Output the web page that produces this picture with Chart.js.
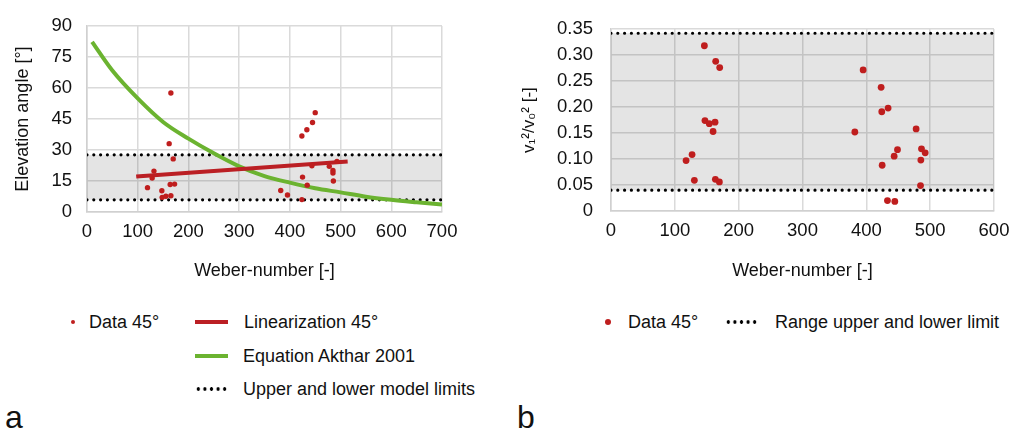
<!DOCTYPE html>
<html>
<head>
<meta charset="utf-8">
<script src="https://cdn.jsdelivr.net/npm/chart.js@4/dist/chart.umd.min.js"></script>
<style>
  body { margin: 0; background: #fff; font-family: "Liberation Sans", Arial, sans-serif; color: #111; }
  #page { position: relative; width: 1027px; height: 433px; overflow: hidden; }
  canvas { position: absolute; top: 0; }
  .lg { position: absolute; font-size: 18px; line-height: 22px; white-space: nowrap; }
  .dot { position: absolute; border-radius: 50%; background: #bf1e1e; }
  .bar { position: absolute; height: 4px; }
  .dots { position: absolute; height: 4px;
          background: radial-gradient(circle, #000 1.5px, transparent 2px) repeat-x;
          background-size: 6.6px 4px; }
  .tag { position: absolute; font-size: 32px; line-height: 36px; }
</style>
</head>
<body>
<div id="page">
  <canvas id="chartA" width="470" height="290" style="left:0"></canvas>
  <canvas id="chartB" width="517" height="290" style="left:510px"></canvas>

  <!-- legend a -->
  <div class="dot" style="left:71px;top:320px;width:4px;height:4px"></div>
  <div class="lg" style="left:89px;top:311px">Data 45°</div>
  <div class="bar" style="left:195px;top:320px;width:33px;background:#bb1f24"></div>
  <div class="lg" style="left:244px;top:311px">Linearization 45°</div>
  <div class="bar" style="left:195px;top:354px;width:33px;background:#6bb330"></div>
  <div class="lg" style="left:243px;top:345px">Equation Akthar 2001</div>
  <div class="dots" style="left:195px;top:387px;width:33px"></div>
  <div class="lg" style="left:243px;top:378px">Upper and lower model limits</div>
  <div class="tag" style="left:5px;top:399px">a</div>

  <!-- legend b -->
  <div class="dot" style="left:605px;top:319px;width:6px;height:6px"></div>
  <div class="lg" style="left:628px;top:311px">Data 45°</div>
  <div class="dots" style="left:725px;top:320px;width:33px"></div>
  <div class="lg" style="left:775px;top:311px">Range upper and lower limit</div>
  <div class="tag" style="left:517px;top:399px">b</div>
</div>

<script>
// ---- chart a: elevation angle vs Weber number ----
const weberA = [165.4, 162, 170, 132, 128.5, 119.3, 147.6, 148.2, 155.5, 165.4, 164, 172.7,
                450, 444.7, 433.5, 423.7, 443.5, 477.7, 485, 485, 485.8, 425, 434.2, 382, 395.3, 423.7, 492.9];
const angleA = [57.6, 33.1, 25.7, 19.8, 16.4, 11.8, 10.3, 7.1, 7.6, 7.9, 13.3, 13.5,
                48.1, 43.3, 39.8, 36.8, 22.4, 22.1, 20.1, 18.9, 15.0, 16.9, 13.0, 10.4, 8.2, 6.0, 24.5];

const linWeber = [97, 514];
const linAngle = [17.2, 24.5];

const akhtarWeber = [10, 50, 100, 150, 200, 250, 300, 350, 400, 450, 500, 550, 600, 650, 700];
const akhtarAngle = [82.4, 68.5, 55, 43.6, 35.5, 28.4, 22.1, 17.4, 14.2, 11.5, 9.5, 7.4, 5.9, 4.7, 3.6];

const limitWeberA = [0, 700];
const limitsA = [27.7, 5.9];     // upper, lower

// ---- chart b: v1²/v0² vs Weber number ----
const weberB = [146.3, 164, 170.3, 147.2, 154, 163, 159.9, 127, 117.6, 130.6, 163.5, 169.8,
                395, 423.2, 424.2, 434.1, 382, 478, 448.8, 443.6, 424.8, 486.4, 492.2, 485.4, 484.9, 433.1, 444.6];
const ratioB = [0.318, 0.288, 0.276, 0.174, 0.168, 0.171, 0.153, 0.1085, 0.097, 0.059, 0.061, 0.056,
                0.2715, 0.238, 0.191, 0.198, 0.152, 0.158, 0.118, 0.1055, 0.088, 0.1197, 0.112, 0.098, 0.049, 0.020, 0.0185];

const limitWeberB = [0, 600];
const limitsB = [0.342, 0.04];

const RED = '#bf1e1e';
const LINE_RED = '#bb1f24';
const GREEN = '#6bb330';
const GRID = '#dadada';
const BAND = 'rgba(0,0,0,0.105)';
const FONT = "'Liberation Sans', Arial, sans-serif";

const pts = (xs, ys) => xs.map((x, i) => ({ x: x, y: ys[i] }));

function limitSet(xs, y, fill) {
  return {
    data: xs.map(x => ({ x: x, y: y })),
    showLine: true,
    pointRadius: 0,
    borderColor: '#000',
    borderWidth: 3.2,
    borderDash: [0, 6.8],
    borderCapStyle: 'round',
    backgroundColor: BAND,
    fill: fill
  };
}

function axis(min, max, step, title, titleSize, titlePad, tickPad, fit, cb) {
  return {
    type: 'linear',
    min: min,
    max: max,
    afterFit: fit,
    grid: { color: GRID, lineWidth: 1.5, drawTicks: false },
    border: { color: '#d0d0d0', width: 1.5 },
    ticks: {
      stepSize: step,
      padding: tickPad,
      color: '#111',
      font: { family: FONT, size: 18.5 },
      callback: cb || (v => v)
    },
    title: {
      display: true,
      text: title,
      color: '#111',
      font: { family: FONT, size: titleSize },
      padding: titlePad
    }
  };
}

const commonPlugins = {
  legend: { display: false },
  tooltip: { enabled: false }
};

new Chart(document.getElementById('chartA'), {
  type: 'scatter',
  data: {
    datasets: [
      { data: pts(weberA, angleA), pointRadius: 2.7, pointBackgroundColor: RED, pointBorderWidth: 0 },
      { data: pts(linWeber, linAngle), showLine: true, pointRadius: 0, borderColor: LINE_RED, borderWidth: 4 },
      { data: pts(akhtarWeber, akhtarAngle), showLine: true, pointRadius: 0, borderColor: GREEN,
        borderWidth: 4, cubicInterpolationMode: 'monotone' },
      limitSet(limitWeberA, limitsA[0], '+1'),
      limitSet(limitWeberA, limitsA[1], false)
    ]
  },
  options: {
    responsive: false,
    animation: false,
    layout: { padding: { top: 22, right: 28, left: 0, bottom: 0 } },
    scales: {
      x: axis(0, 700, 100, 'Weber-number [-]', 18, { top: 0, bottom: 8 }, 9, s => { s.height = 78; }),
      y: axis(0, 90, 15, 'Elevation angle [°]', 18, { top: 12, bottom: 0 }, 15, s => { s.width = 87; })
    },
    plugins: commonPlugins
  }
});

new Chart(document.getElementById('chartB'), {
  type: 'scatter',
  data: {
    datasets: [
      { data: pts(weberB, ratioB), pointRadius: 3.4, pointBackgroundColor: RED, pointBorderWidth: 0 },
      limitSet(limitWeberB, limitsB[0], '+1'),
      limitSet(limitWeberB, limitsB[1], false)
    ]
  },
  options: {
    responsive: false,
    animation: false,
    layout: { padding: { top: 22, right: 33, left: 0, bottom: 0 } },
    scales: {
      x: axis(0, 600, 100, 'Weber-number [-]', 18, { top: 0, bottom: 8 }, 9, s => { s.height = 79; }),
      y: axis(0, 0.35, 0.05, 'v₁²/v₀² [-]', 17, { top: 9, bottom: 0 }, 18, s => { s.width = 101; },
              v => v === 0 ? '0' : v.toFixed(2))
    },
    plugins: commonPlugins
  }
});
</script>
</body>
</html>
